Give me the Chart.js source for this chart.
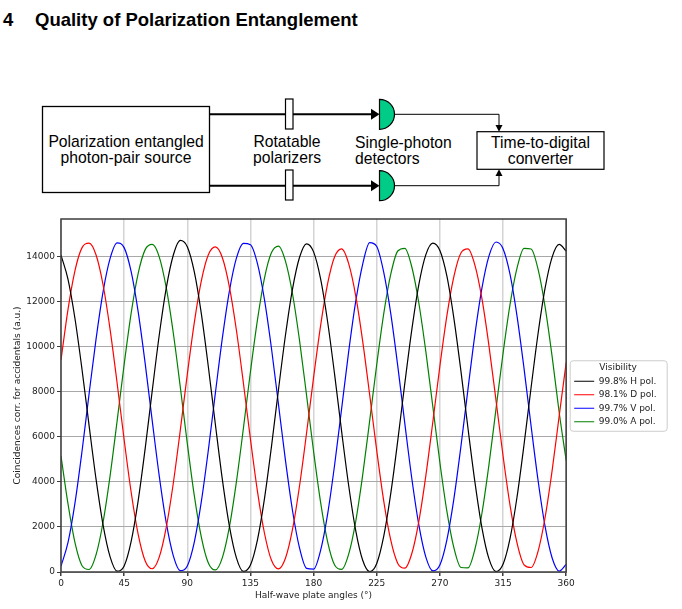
<!DOCTYPE html>
<html>
<head>
<meta charset="utf-8">
<script src="https://cdn.jsdelivr.net/npm/chart.js@4.4.1/dist/chart.umd.min.js"></script>
<style>
  html, body { margin: 0; padding: 0; background: #fff; }
  body { width: 682px; height: 609px; position: relative; overflow: hidden; }
  #diagram { position: absolute; left: 0; top: 0; }
  #diagram text { font-family: "Liberation Sans", Arial, sans-serif; fill: #000; }
  #plot { position: absolute; left: 0; top: 205px; }
</style>
</head>
<body>
<svg id="diagram" width="682" height="205" viewBox="0 0 682 205">
  <text x="3" y="25.5" font-size="18.5" font-weight="bold">4</text>
  <text x="35" y="25.5" font-size="18.5" font-weight="bold">Quality of Polarization Entanglement</text>

  <!-- source -->
  <rect x="42.5" y="106.5" width="167" height="86" fill="none" stroke="#000" stroke-width="1.3"/>
  <text x="126" y="146.5" font-size="15.7" text-anchor="middle">Polarization entangled</text>
  <text x="126" y="163" font-size="15.7" text-anchor="middle">photon-pair source</text>

  <!-- beams -->
  <line x1="209.5" y1="114.3" x2="372" y2="114.3" stroke="#000" stroke-width="2"/>
  <line x1="209.5" y1="185.7" x2="372" y2="185.7" stroke="#000" stroke-width="2"/>
  <polygon points="371,108.8 379.5,114.3 371,119.8" fill="#000"/>
  <polygon points="371,180.2 379.5,185.7 371,191.2" fill="#000"/>

  <!-- polarizers -->
  <rect x="285.5" y="99" width="7.5" height="30" fill="#fff" stroke="#000" stroke-width="1.2"/>
  <rect x="285.5" y="170" width="7.5" height="30" fill="#fff" stroke="#000" stroke-width="1.2"/>
  <text x="287" y="146.5" font-size="15.7" text-anchor="middle">Rotatable</text>
  <text x="287" y="163" font-size="15.7" text-anchor="middle">polarizers</text>

  <!-- detectors -->
  <path d="M379.5,99.3 A15,15 0 0 1 379.5,129.3 Z" fill="#00cc88" stroke="#000" stroke-width="1.2"/>
  <path d="M379.5,170.7 A15,15 0 0 1 379.5,200.7 Z" fill="#00cc88" stroke="#000" stroke-width="1.2"/>
  <text x="355" y="147.7" font-size="15.7">Single-photon</text>
  <text x="355" y="164" font-size="15.7">detectors</text>

  <!-- signal lines -->
  <polyline points="394.5,114.3 499,114.3 499,126" fill="none" stroke="#000" stroke-width="1"/>
  <polyline points="394.5,185.7 499,185.7 499,175" fill="none" stroke="#000" stroke-width="1"/>
  <polygon points="495.5,125 502.5,125 499,131.7" fill="#000"/>
  <polygon points="495.5,176 502.5,176 499,169.3" fill="#000"/>

  <!-- TDC -->
  <rect x="477" y="131.7" width="127" height="37.6" fill="none" stroke="#000" stroke-width="1.2"/>
  <text x="540.5" y="147.7" font-size="15.7" text-anchor="middle">Time-to-digital</text>
  <text x="540.5" y="164" font-size="15.7" text-anchor="middle">converter</text>
</svg>

<canvas id="plot" width="682" height="404"></canvas>

<script>
// half-wave plate angle (deg)
const angles = [
  0, 5, 10, 15, 20, 25, 30, 35, 40,
  45, 50, 55, 60, 65, 70, 75, 80, 85,
  90, 95, 100, 105, 110, 115, 120, 125, 130,
  135, 140, 145, 150, 155, 160, 165, 170, 175,
  180, 185, 190, 195, 200, 205, 210, 215, 220,
  225, 230, 235, 240, 245, 250, 255, 260, 265,
  270, 275, 280, 285, 290, 295, 300, 305, 310,
  315, 320, 325, 330, 335, 340, 345, 350, 355,
  360
];

// coincidences
const hPol = [
  14070, 12990, 11230, 8980, 6510, 4110, 2080, 670, 35,
  270, 1360, 3170, 5490, 8040, 10510, 12600, 14060, 14720,
  14440, 13320, 11470, 9110, 6560, 4100, 2040, 630, 25,
  310, 1430, 3260, 5580, 8110, 10530, 12570, 13970, 14570,
  14210, 13010, 11110, 8760, 6230, 3840, 1850, 520, 15,
  380, 1590, 3490, 5840, 8370, 10760, 12760, 14090, 14600,
  14270, 13130, 11250, 8920, 6390, 3980, 1950, 580, 20,
  340, 1490, 3340, 5670, 8190, 10600, 12610, 13980, 14540,
  14250
];
const dPol = [
  9410, 11660, 13390, 14400, 14600, 14070, 12740, 10760, 8380,
  5870, 3540, 1670, 490, 145, 660, 1980, 3930, 6290,
  8770, 11070, 12920, 14080, 14430, 13950, 12660, 10730, 8380,
  5900, 3580, 1720, 520, 140, 620, 1900, 3830, 6170,
  8640, 10940, 12800, 13990, 14340, 13690, 12270, 10240, 7850,
  5390, 3150, 1410, 380, 170, 820, 2250, 4280, 6670,
  9140, 11380, 13120, 14160, 14340, 13610, 12120, 10030, 7620,
  5160, 2960, 1280, 320, 200, 930, 2430, 4510, 6920,
  9300
];
const vPol = [
  260, 1310, 3080, 5370, 7900, 10350, 12450, 13920, 14610,
  14400, 13330, 11550, 9250, 6720, 4270, 2190, 730, 60,
  270, 1330, 3120, 5410, 7940, 10390, 12470, 13930, 14590,
  14530, 13690, 12090, 9920, 7430, 4930, 2720, 1060, 160,
  125, 960, 2570, 4760, 7260, 9780, 12000, 13670, 14620,
  14450, 13300, 11470, 9140, 6600, 4150, 2090, 660, 50,
  310, 1430, 3260, 5580, 8110, 10560, 12610, 14030, 14650,
  14350, 13210, 11350, 9020, 6480, 4050, 2010, 620, 40,
  340
];
const aPol = [
  5150, 3020, 1290, 280, 110, 770, 2220, 4280, 6710,
  9210, 11490, 13260, 14310, 14540, 13990, 12620, 10620, 8220,
  5710, 3390, 1550, 400, 90, 640, 2000, 4000, 6390,
  8890, 11190, 13050, 14180, 14470, 13790, 12340, 10270, 7840,
  5350, 3090, 1340, 310, 115, 790, 2240, 4310, 6730,
  9210, 11470, 13220, 14250, 14370, 13540, 11940, 9780, 7330,
  4860, 2690, 1070, 200, 180, 1020, 2620, 4780, 7240,
  9700, 11880, 13500, 14370, 14340, 13430, 11760, 9560, 7090,
  4950
];

const seriesLabels = ['99.8% H pol.', '98.1% D pol.', '99.7% V pol.', '99.0% A pol.'];
const xTicks = [0, 45, 90, 135, 180, 225, 270, 315, 360];
const yTicks = [0, 2000, 4000, 6000, 8000, 10000, 12000, 14000];

Chart.defaults.font.family = "'DejaVu Sans', sans-serif";
Chart.defaults.font.size = 9;
Chart.defaults.color = '#222';

const toPoints = (vals) => angles.map((a, i) => ({ x: a, y: vals[i] }));

const makeSet = (label, vals, color) => ({
  label: label,
  data: toPoints(vals),
  borderColor: color,
  backgroundColor: color,
  borderWidth: 1.2,
  pointRadius: 0,
  cubicInterpolationMode: 'monotone',
  fill: false
});

// frame round the plot, box round the legend
const framePlugin = {
  id: 'framePlugin',
  afterLayout(chart) {
    const lg = chart.legend;
    const shift = chart.chartArea.right + 3.5 - lg.left;
    lg.left += shift;
    lg.right += shift;
  },
  afterDatasetsDraw(chart) {
    const { ctx, chartArea: a } = chart;
    ctx.save();
    ctx.strokeStyle = '#3d3d3d';
    ctx.lineWidth = 1.5;
    ctx.strokeRect(a.left, a.top, a.right - a.left, a.bottom - a.top);
    ctx.restore();
  },
  afterDraw(chart) {
    const lg = chart.legend;
    const hb = lg.legendHitBoxes;
    if (!hb || !hb.length) return;
    const top = hb[0].top - 16;
    const bottom = hb[hb.length - 1].top + hb[hb.length - 1].height + 5;
    const left = lg.left + 0.5;
    const right = left + 97;
    const { ctx } = chart;
    ctx.save();
    ctx.strokeStyle = '#cccccc';
    ctx.lineWidth = 1;
    ctx.beginPath();
    ctx.roundRect(left, top, right - left, bottom - top, 3);
    ctx.stroke();
    ctx.restore();
  }
};

new Chart(document.getElementById('plot'), {
  type: 'line',
  data: {
    datasets: [
      makeSet(seriesLabels[0], hPol, '#000000'),
      makeSet(seriesLabels[1], dPol, '#ff0000'),
      makeSet(seriesLabels[2], vPol, '#0000ff'),
      makeSet(seriesLabels[3], aPol, '#008000')
    ]
  },
  options: {
    responsive: false,
    animation: false,
    devicePixelRatio: 1,
    layout: { padding: { top: 14, right: 19, bottom: 0, left: 0 } },
    scales: {
      x: {
        type: 'linear',
        min: 0,
        max: 360,
        afterBuildTicks: (scale) => { scale.ticks = xTicks.map(v => ({ value: v })); },
        afterFit: (scale) => { scale.height = 37; },
        ticks: { autoSkip: false, maxRotation: 0, padding: 2, color: '#222' },
        grid: { color: '#d4d4d4', lineWidth: 1.5, tickColor: '#3d3d3d', tickLength: 4 },
        border: { display: false },
        title: {
          display: true,
          text: 'Half-wave plate angles (°)',
          color: '#222',
          padding: { top: 0, bottom: 7.6 }
        }
      },
      y: {
        min: 0,
        max: 15670,
        afterBuildTicks: (scale) => { scale.ticks = yTicks.map(v => ({ value: v })); },
        afterFit: (scale) => { scale.width = 61; },
        ticks: { padding: 2, color: '#222', callback: (v) => String(v) },
        grid: { color: '#a8a8a8', lineWidth: 1, tickColor: '#3d3d3d', tickLength: 4 },
        border: { display: false },
        title: {
          display: true,
          text: 'Coincidences corr. for accidentals (a.u.)',
          color: '#222',
          padding: { top: 12, bottom: 0 }
        }
      }
    },
    plugins: {
      tooltip: { enabled: false },
      legend: {
        position: 'right',
        align: 'center',
        fullSize: false,
        labels: {
          usePointStyle: true,
          pointStyle: 'line',
          pointStyleWidth: 20,
          padding: 4.5,
          color: '#222',
          font: { size: 9 }
        },
        title: {
          display: true,
          text: 'Visibility',
          color: '#222',
          font: { size: 9, lineHeight: 1 },
          padding: { top: 3, bottom: 0 }
        }
      }
    }
  },
  plugins: [framePlugin]
});
</script>
</body>
</html>
